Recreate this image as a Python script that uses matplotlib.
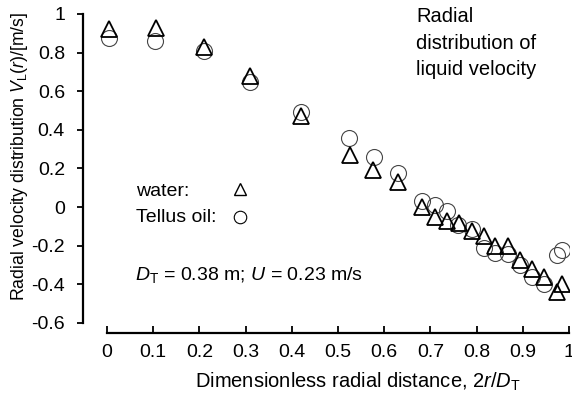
import numpy as np
import matplotlib
matplotlib.use('Agg')
import matplotlib.pyplot as plt

plt.rcParams['font.family'] = ['Liberation Sans', 'DejaVu Sans']
plt.rcParams['mathtext.fontset'] = 'custom'
plt.rcParams['mathtext.rm'] = 'Liberation Sans'
plt.rcParams['mathtext.it'] = 'Liberation Sans:italic'

# Данные: вода (треугольники)
x_water = [0.004, 0.106, 0.21, 0.31, 0.42, 0.526, 0.576, 0.63, 0.682, 0.71,
           0.735, 0.762, 0.79, 0.815, 0.84, 0.868, 0.894, 0.92, 0.945, 0.974, 0.985]
v_water = [0.92, 0.93, 0.83, 0.68, 0.47, 0.27, 0.19, 0.13, 0.0, -0.05,
           -0.07, -0.08, -0.125, -0.15, -0.2, -0.2, -0.275, -0.32, -0.36, -0.44, -0.40]

# Данные: Tellus oil (круги)
x_oil = [0.004, 0.104, 0.21, 0.31, 0.42, 0.524, 0.578, 0.63, 0.682, 0.71,
         0.735, 0.76, 0.79, 0.815, 0.84, 0.868, 0.894, 0.92, 0.945, 0.974, 0.985]
v_oil = [0.875, 0.86, 0.81, 0.65, 0.49, 0.36, 0.26, 0.175, 0.03, 0.01,
         -0.02, -0.095, -0.115, -0.21, -0.24, -0.245, -0.30, -0.36, -0.40, -0.25, -0.22]

x_ticks = [0, 0.1, 0.2, 0.3, 0.4, 0.5, 0.6, 0.7, 0.8, 0.9, 1]
x_tick_labels = ['0', '0.1', '0.2', '0.3', '0.4', '0.5', '0.6', '0.7', '0.8', '0.9', '1']
y_ticks = [-0.6, -0.4, -0.2, 0, 0.2, 0.4, 0.6, 0.8, 1]
y_tick_labels = ['-0.6', '-0.4', '-0.2', '0', '0.2', '0.4', '0.6', '0.8', '1']

fig = plt.figure(figsize=(5.72, 4.0), dpi=100)
ax = fig.add_axes([83 / 572, 67 / 400, 486 / 572, 319 / 400])

ax.plot(x_oil, v_oil, linestyle='none', marker='o', markersize=11.5,
        markerfacecolor='none', markeredgecolor='#444444', markeredgewidth=0.8)
ax.plot(x_water, v_water, linestyle='none', marker='^', markersize=11,
        markerfacecolor='none', markeredgecolor='black', markeredgewidth=1.3)

ax.set_xlim(-0.052, 1.0)
ax.set_ylim(-0.652, 1.0)

for s in ['top', 'right']:
    ax.spines[s].set_visible(False)
ax.spines['left'].set_bounds(-0.6, 1)
ax.spines['bottom'].set_bounds(0, 1)
ax.spines['left'].set_linewidth(1.6)
ax.spines['bottom'].set_linewidth(1.6)

ax.set_xticks(x_ticks)
ax.set_xticklabels(x_tick_labels)
ax.set_yticks(y_ticks)
ax.set_yticklabels(y_tick_labels)
ax.tick_params(axis='x', direction='in', length=5, width=1.3, pad=8, labelsize=14)
ax.tick_params(axis='y', direction='out', length=4, width=1.3, pad=9, labelsize=14)

ax.set_xlabel('Dimensionless radial distance, 2$r$/$D_{\\mathrm{T}}$', fontsize=14.5)
ax.xaxis.set_label_coords(0.565, -0.118)
ax.set_ylabel('Radial velocity distribution $V_{\\mathrm{L}}(r)$/[m/s]', fontsize=12.7)
ax.yaxis.set_label_coords(-0.109, 0.555)

ax.text(0.685, 0.909, 'Radial\ndistribution of\nliquid velocity', transform=ax.transAxes,
        fontsize=14.5, va='center', ha='left', linespacing=1.5)

# Условные обозначения
ax.text(0.11, 0.445, 'water:', transform=ax.transAxes, fontsize=14, va='center')
ax.text(0.11, 0.363, 'Tellus oil:', transform=ax.transAxes, fontsize=14, va='center')
ax.plot([0.323], [0.45], transform=ax.transAxes, marker='^', markersize=9,
        markerfacecolor='none', markeredgecolor='black', markeredgewidth=1.0)
ax.plot([0.323], [0.365], transform=ax.transAxes, marker='o', markersize=9,
        markerfacecolor='none', markeredgecolor='black', markeredgewidth=0.8)

ax.text(0.107, 0.181, '$D_{\\mathrm{T}}$ = 0.38 m; $U$ = 0.23 m/s', transform=ax.transAxes,
        fontsize=14, va='center')

fig.savefig('out.png', dpi=100)
